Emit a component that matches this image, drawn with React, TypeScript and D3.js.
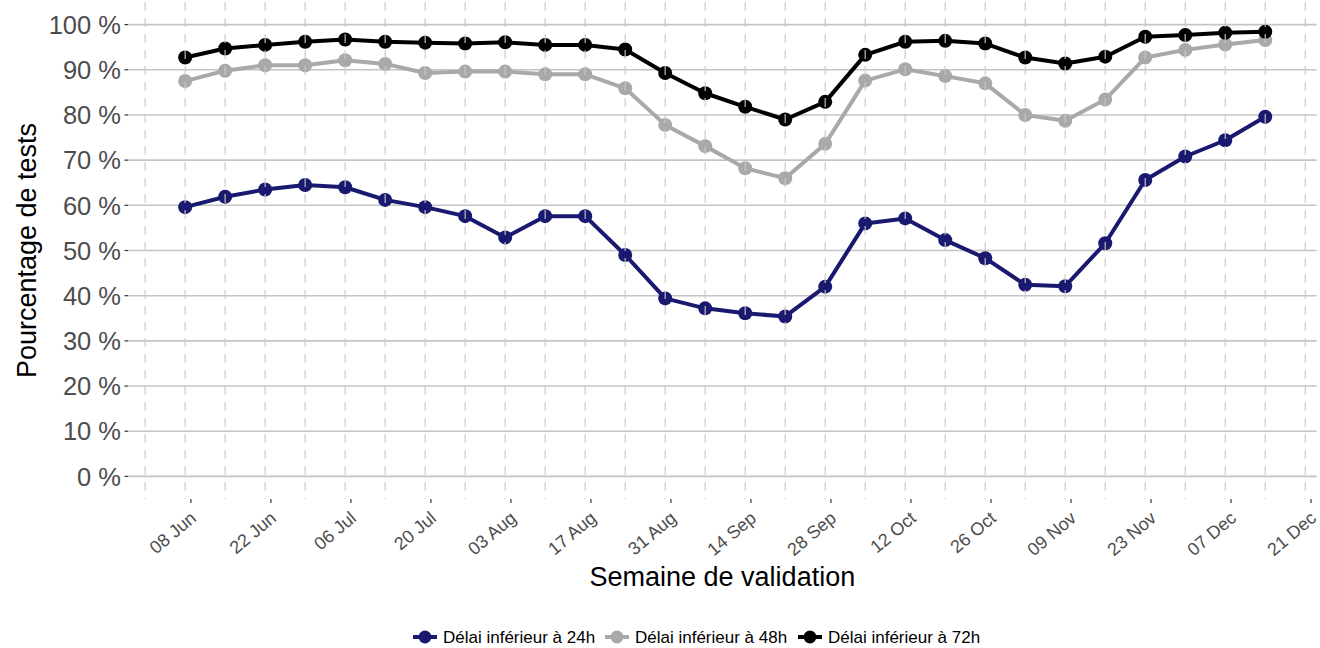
import React, { useEffect } from 'react';
import * as d3 from 'd3';

// weekly points (Sundays), 07 Jun -> 13 Dec 2020
const firstWeek = new Date(2020, 5, 7);
const weeks = d3.range(28).map(i => d3.timeDay.offset(firstWeek, 7 * i));

const delai24 = [59.6, 61.9, 63.5, 64.5, 64.0, 61.2, 59.6, 57.6, 52.9, 57.6, 57.6, 49.0, 39.4, 37.2,
  36.1, 35.4, 42.0, 56.0, 57.1, 52.3, 48.3, 42.4, 42.1, 51.6, 65.6, 70.8, 74.4, 79.6];
const delai48 = [87.5, 89.8, 91.0, 91.0, 92.1, 91.3, 89.3, 89.6, 89.6, 89.0, 89.0, 85.9, 77.8, 73.1,
  68.2, 66.0, 73.6, 87.6, 90.1, 88.6, 87.0, 80.0, 78.7, 83.4, 92.7, 94.4, 95.6, 96.6];
const delai72 = [92.7, 94.7, 95.5, 96.2, 96.7, 96.2, 96.0, 95.8, 96.1, 95.5, 95.5, 94.5, 89.3, 84.8,
  81.8, 79.0, 82.9, 93.3, 96.2, 96.4, 95.8, 92.7, 91.4, 92.9, 97.3, 97.7, 98.2, 98.4];

const seriesNames = ['Délai inférieur à 24h', 'Délai inférieur à 48h', 'Délai inférieur à 72h'];
const seriesColors = ['#191970', '#A9A9A9', '#000000'];

const yTicks = [0, 10, 20, 30, 40, 50, 60, 70, 80, 90, 100];
const xTicks = d3.range(15).map(i => d3.timeDay.offset(new Date(2020, 5, 8), 14 * i));
const vLines = d3.range(30).map(i => d3.timeDay.offset(new Date(2020, 4, 31), 7 * i));

const W = 1320, H = 648;
const panel = { left: 128, right: 1316.7, top: 2, bottom: 499 };
const font = 'Liberation Sans, Arial, Helvetica, sans-serif';

const App = () => {
  useEffect(() => {
    document.body.style.margin = '0';
  }, []);

  const x = d3.scaleTime()
    .domain([new Date(2020, 4, 28), new Date(2020, 11, 22)])
    .range([panel.left, panel.right]);
  const y = d3.scaleLinear().domain([-5, 105]).range([panel.bottom, panel.top]);
  const fmt = d3.timeFormat('%d %b');

  const series = [delai24, delai48, delai72].map((vals, i) => ({
    name: seriesNames[i],
    color: seriesColors[i],
    pts: vals.map((v, j) => ({ d: weeks[j], v })),
  }));

  const line = d3.line<{ d: Date; v: number }>().x(p => x(p.d)).y(p => y(p.v));

  // legend layout
  const legendX = [413, 605, 798];

  return (
    <svg width={W} height={H} style={{ display: 'block', background: '#fff' }} fontFamily={font}>
      {/* horizontal grid */}
      {yTicks.map(t => (
        <line key={t} x1={panel.left} x2={panel.right} y1={y(t)} y2={y(t)} stroke="#C4C4C4" strokeWidth={1.6} />
      ))}

      {/* series */}
      {series.map(s => (
        <g key={s.name}>
          <path d={line(s.pts) || ''} fill="none" stroke={s.color} strokeWidth={4} strokeLinejoin="round" />
          {s.pts.map((p, j) => (
            <circle key={j} cx={x(p.d)} cy={y(p.v)} r={7} fill={s.color} />
          ))}
        </g>
      ))}

      {/* dashed weekly lines, drawn on top */}
      {vLines.map((d, i) => (
        <line key={i} x1={x(d)} x2={x(d)} y1={panel.top} y2={panel.bottom}
          stroke="#C8C8C8" strokeOpacity={0.8} strokeWidth={1.4} strokeDasharray="9,7" />
      ))}

      {/* y axis */}
      {yTicks.map(t => (
        <g key={t} transform={`translate(0,${y(t)})`}>
          <line x1={124.5} x2={128} stroke="#333" strokeWidth={1.2} />
          <text x={121} dy="0.36em" textAnchor="end" fontSize={25.5} fill="#4D4D4D">{`${t} %`}</text>
        </g>
      ))}

      {/* x axis */}
      {xTicks.map((d, i) => (
        <g key={i} transform={`translate(${x(d)},${panel.bottom})`}>
          <line y1={0} y2={4} stroke="#333" strokeWidth={1.2} />
          <text transform="translate(6.5,21) rotate(-40)" textAnchor="end" fontSize={18} fill="#4D4D4D">{fmt(d)}</text>
        </g>
      ))}

      {/* titles */}
      <text x={(panel.left + panel.right) / 2} y={586} textAnchor="middle" fontSize={27} fill="#000">Semaine de validation</text>
      <text transform={`translate(36,${(panel.top + panel.bottom) / 2}) rotate(-90)`} textAnchor="middle" fontSize={27} fill="#000">
        Pourcentage de tests
      </text>

      {/* legend */}
      {series.map((s, i) => (
        <g key={s.name} transform={`translate(${legendX[i]},637)`}>
          <line x1={0} x2={24} stroke={s.color} strokeWidth={4} />
          <circle cx={12} cy={0} r={6.5} fill={s.color} />
          <text x={30} dy="0.36em" fontSize={17} fill="#000">{s.name}</text>
        </g>
      ))}
    </svg>
  );
};

export default App;
